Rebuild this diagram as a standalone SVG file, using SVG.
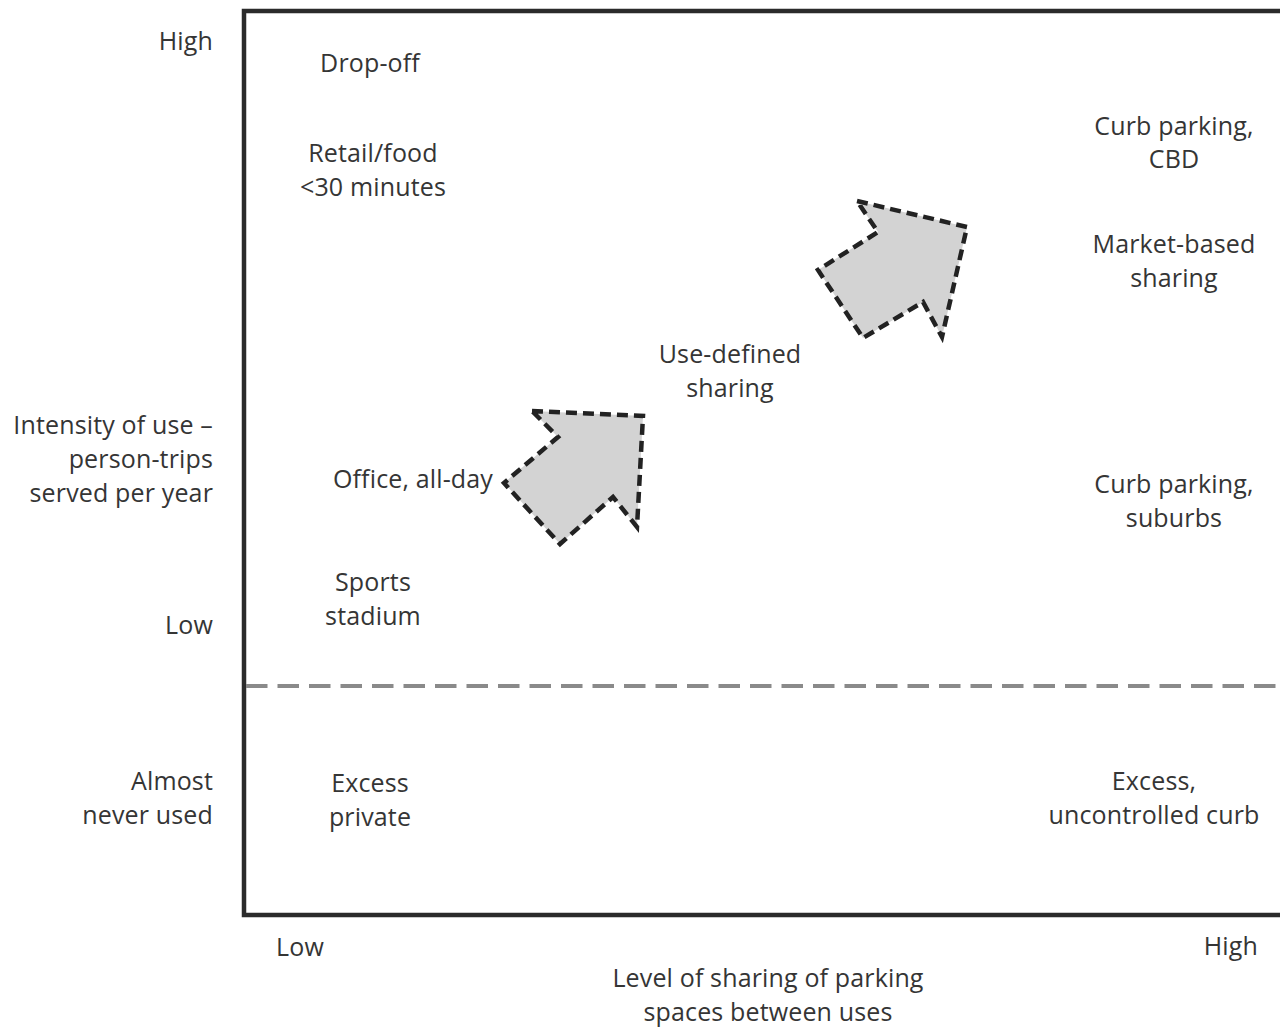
<svg xmlns="http://www.w3.org/2000/svg" width="1280" height="1029" viewBox="0 0 1280 1029">
<style>
text { font-family: "Open Sans", "Noto Sans", "Liberation Sans", sans-serif; font-size: 25px; letter-spacing: 0.15px; fill: #353535; }
.m { text-anchor: middle; }
.e { text-anchor: end; }
.s { text-anchor: start; }
.arrow { fill: #d3d3d3; stroke: #222; stroke-width: 4.5; stroke-dasharray: 11 6; stroke-linejoin: miter; }
</style>
<rect width="1280" height="1029" fill="#fff"/>
<g id="frame">
<path d="M1290 11 H244 V915 H1290" fill="none" stroke="#2b2b2b" stroke-width="4.5"/>
<line x1="246" y1="686" x2="1280" y2="686" stroke="#8a8a8a" stroke-width="4" stroke-dasharray="21.5 10"/>
</g>
<g id="y-axis-labels">
<text class="e" x="213" y="50">High</text>
<text class="e" x="213" y="434">Intensity of use –</text>
<text class="e" x="213" y="468">person-trips</text>
<text class="e" x="213" y="502">served per year</text>
<text class="e" x="213" y="634">Low</text>
<text class="e" x="213" y="790">Almost</text>
<text class="e" x="213" y="824">never used</text>
</g>
<g id="x-axis-labels">
<text class="s" x="276" y="956">Low</text>
<text class="e" x="1258" y="955">High</text>
<text class="m" x="768" y="987">Level of sharing of parking</text>
<text class="m" x="768" y="1021">spaces between uses</text>
</g>
<g id="drop-off"><text class="m" x="370" y="72">Drop-off</text></g>
<g id="retail-food"><text class="m" x="373" y="162">Retail/food</text><text class="m" x="373" y="196">&lt;30 minutes</text></g>
<g id="office"><text class="m" x="413" y="488">Office, all-day</text></g>
<g id="sports"><text class="m" x="373" y="591">Sports</text><text class="m" x="373" y="625">stadium</text></g>
<g id="excess-private"><text class="m" x="370" y="792">Excess</text><text class="m" x="370" y="826">private</text></g>
<g id="use-defined"><text class="m" x="730" y="363">Use-defined</text><text class="m" x="730" y="397">sharing</text></g>
<g id="curb-cbd"><text class="m" x="1174" y="135">Curb parking,</text><text class="m" x="1174" y="168">CBD</text></g>
<g id="market-based"><text class="m" x="1174" y="253">Market-based</text><text class="m" x="1174" y="287">sharing</text></g>
<g id="curb-suburbs"><text class="m" x="1174" y="493">Curb parking,</text><text class="m" x="1174" y="527">suburbs</text></g>
<g id="excess-curb"><text class="m" x="1154" y="790">Excess,</text><text class="m" x="1154" y="824">uncontrolled curb</text></g>
<g id="connectors">
<polygon class="arrow" points="532,411 643,416 637,527 613,497 560,544 504,483 558,437"/>
<polygon class="arrow" points="857,201 967,227 942,337 923,302 863,338 818,270 878,232"/>
</g>
</svg>
